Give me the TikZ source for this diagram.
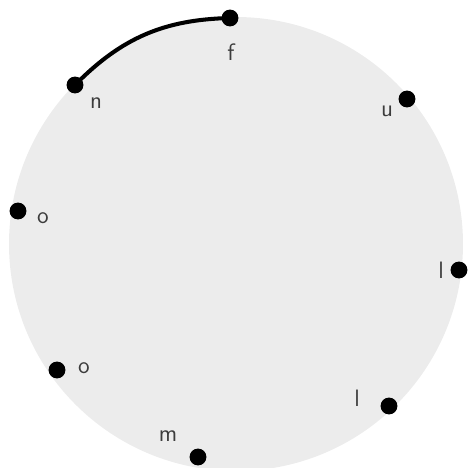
\documentclass[tikz,border=0pt]{standalone}
\usepackage{tikz}
\usetikzlibrary{positioning}
\definecolor{diskgray}{RGB}{236,236,236}
\definecolor{lettergray}{RGB}{60,60,60}
\tikzset{
  vdot/.style={circle,fill=black,inner sep=0pt,minimum size=9.6pt},
  letter/.style={font=\fontsize{13.5}{15}\selectfont\sffamily,text=lettergray,inner sep=0pt}
}

\begin{document}
\begin{tikzpicture}[x=0.02cm,y=-0.02cm]
\useasboundingbox (0,0) rectangle (468,468);
\fill[diskgray] (236,244) circle[radius=227];
% points on the ring
\node[vdot] (df) at (230,18) {};
\node[vdot] (dn) at (75,85) {};
\node[vdot] (du) at (407,99) {};
\node[vdot] (dotop) at (18,211) {};
\node[vdot] (dltop) at (459,270) {};
\node[vdot] (dobot) at (57,370) {};
\node[vdot] (dlbot) at (389,406) {};
\node[vdot] (dm) at (198,457) {};
% letters
\node[letter] (lf) at (231,52) {f};
\node[letter] (ln) at (96,103) {n};
\node[letter] (lu) at (387,111) {u};
\node[letter] (lotop) at (43,218) {o};
\node[letter] (lltop) at (441,270) {l};
\node[letter] (lobot) at (84,368) {o};
\node[letter] (llbot) at (357,398) {l};
\node[letter] (lm) at (168,436) {m};
% the bold arc
\draw[line width=2.3pt,line cap=round] (dn.center) to[bend left=22] (df.center);
\end{tikzpicture}
\end{document}
